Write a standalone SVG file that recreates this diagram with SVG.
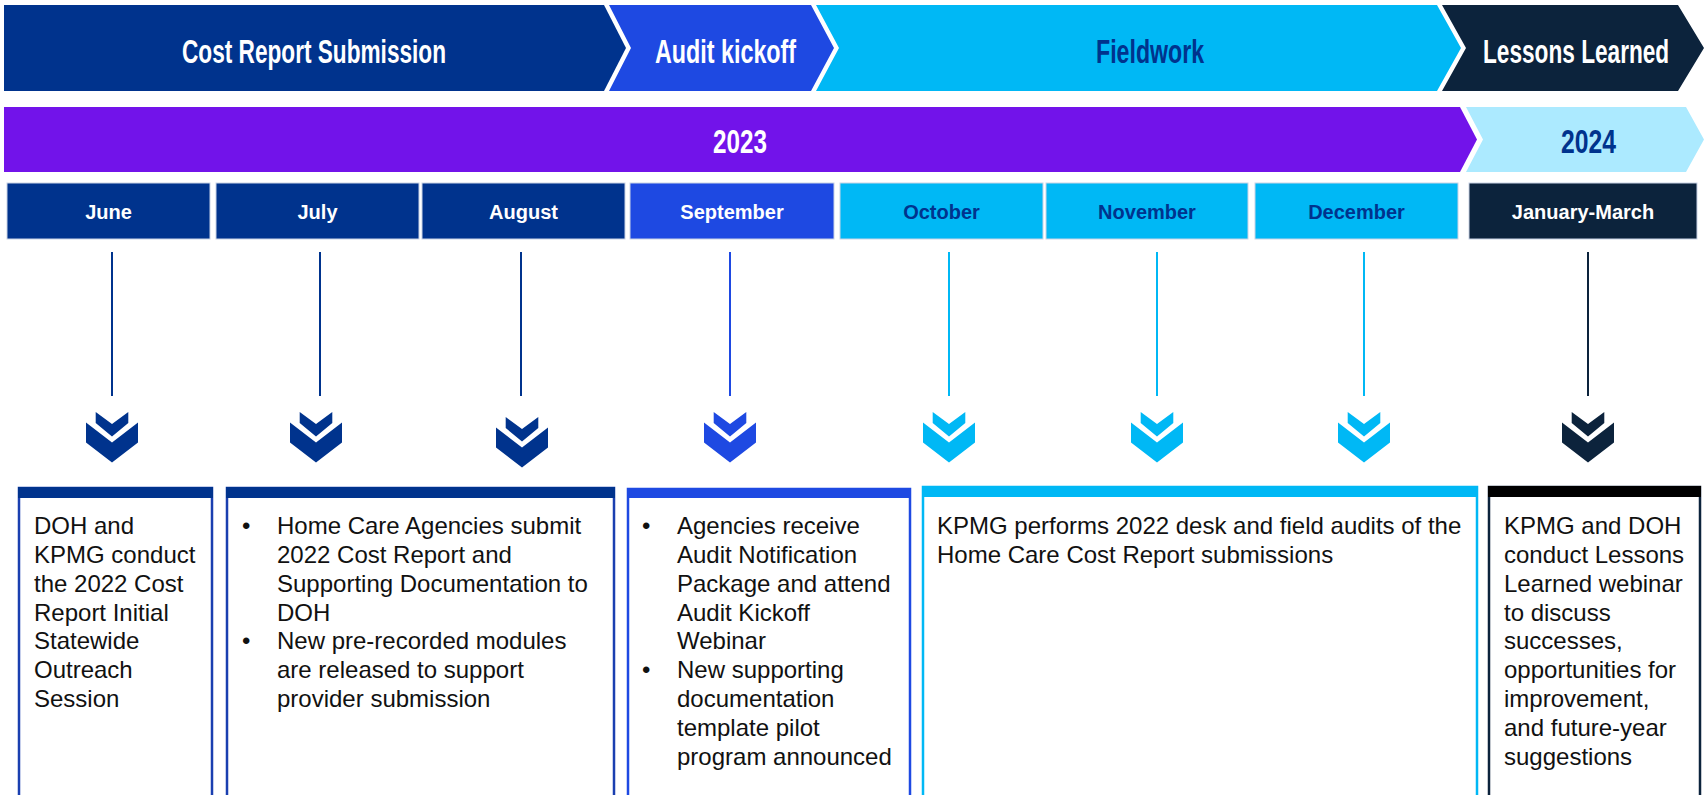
<svg xmlns="http://www.w3.org/2000/svg" xmlns:xlink="http://www.w3.org/1999/xlink" width="1705" height="795" viewBox="0 0 1705 795">
  <style>
    .hdr { font-family: "Liberation Sans", Arial, sans-serif; font-weight: bold; font-size: 34px; }
    .mon { font-family: "Liberation Sans", Arial, sans-serif; font-weight: bold; font-size: 20px; text-anchor: middle; }
    .body { font-family: "Liberation Sans", Arial, sans-serif; font-size: 24px; fill: #111111; }
    .white { fill: #ffffff; }
    .kblue { fill: #00338D; }
    .mbox { stroke: #c9d3e6; stroke-width: 1; }
    .stem { stroke-width: 2; }
    .card { fill: #ffffff; stroke-width: 2.5; }
  </style>
  <defs>
    <!-- double chevron pointing down; origin at top centre -->
    <g id="chev">
      <path d="M-16.3,0 L0,12 L16.3,0 L16.3,11 L0,24.4 L-16.3,11 Z"/>
      <path d="M-26,10.4 L0,30.4 L26,10.4 L26,30.4 L0,50.4 L-26,30.4 Z"/>
    </g>
  </defs>

  <rect width="1705" height="795" fill="#ffffff"/>

  <!-- phase band (condensed headings via horizontal scale) -->
  <g id="phase-cost-report">
    <path d="M4,5 H604 L626,48 L604,91 H4 Z" fill="#00338D"/>
    <text class="hdr white" transform="translate(182,63) scale(0.665,1)" x="0" y="0" textLength="397" lengthAdjust="spacingAndGlyphs">Cost Report Submission</text>
  </g>
  <g id="phase-audit-kickoff">
    <path d="M609,5 H811 L834,48 L811,91 H609 L631,48 Z" fill="#1E49E2"/>
    <text class="hdr white" transform="translate(655,63) scale(0.685,1)" x="0" y="0" textLength="206" lengthAdjust="spacingAndGlyphs">Audit kickoff</text>
  </g>
  <g id="phase-fieldwork">
    <path d="M816,5 H1437 L1461,48 L1437,91 H816 L839,48 Z" fill="#00B8F5"/>
    <text class="hdr kblue" transform="translate(1096,63) scale(0.68,1)" x="0" y="0" textLength="159" lengthAdjust="spacingAndGlyphs">Fieldwork</text>
  </g>
  <g id="phase-lessons">
    <path d="M1442,5 H1678 L1704,48 L1678,91 H1442 L1466,48 Z" fill="#0C233C"/>
    <text class="hdr white" transform="translate(1483,63) scale(0.665,1)" x="0" y="0" textLength="280" lengthAdjust="spacingAndGlyphs">Lessons Learned</text>
  </g>

  <!-- year band -->
  <g id="year-2023">
    <path d="M4,107 H1460 L1477,139.5 L1460,172 H4 Z" fill="#7213EA"/>
    <text class="hdr white" transform="translate(713,153) scale(0.714,1)" x="0" y="0" textLength="75.6" lengthAdjust="spacingAndGlyphs">2023</text>
  </g>
  <g id="year-2024">
    <path d="M1466,107 H1686 L1704,139.5 L1686,172 H1466 L1483,139.5 Z" fill="#ACEAFF"/>
    <text class="hdr kblue" transform="translate(1561,153) scale(0.727,1)" x="0" y="0" textLength="75.6" lengthAdjust="spacingAndGlyphs">2024</text>
  </g>

  <!-- months -->
  <g id="month-june">
    <rect class="mbox" x="7" y="183" width="203" height="56" fill="#00338D"/>
    <text class="mon white" x="108.5" y="219">June</text>
  </g>
  <g id="month-july">
    <rect class="mbox" x="216" y="183" width="203" height="56" fill="#00338D"/>
    <text class="mon white" x="317.5" y="219">July</text>
  </g>
  <g id="month-august">
    <rect class="mbox" x="422" y="183" width="203" height="56" fill="#00338D"/>
    <text class="mon white" x="523.5" y="219">August</text>
  </g>
  <g id="month-september">
    <rect class="mbox" x="630" y="183" width="204" height="56" fill="#1E49E2"/>
    <text class="mon white" x="732" y="219">September</text>
  </g>
  <g id="month-october">
    <rect class="mbox" x="840" y="183" width="203" height="56" fill="#00B8F5"/>
    <text class="mon kblue" x="941.5" y="219">October</text>
  </g>
  <g id="month-november">
    <rect class="mbox" x="1046" y="183" width="202" height="56" fill="#00B8F5"/>
    <text class="mon kblue" x="1147" y="219">November</text>
  </g>
  <g id="month-december">
    <rect class="mbox" x="1255" y="183" width="203" height="56" fill="#00B8F5"/>
    <text class="mon kblue" x="1356.5" y="219">December</text>
  </g>
  <g id="month-jan-mar">
    <rect class="mbox" x="1469" y="183" width="228" height="56" fill="#0C233C"/>
    <text class="mon white" x="1583" y="219">January-March</text>
  </g>

  <!-- connectors: stems and down chevrons -->
  <g id="connectors">
    <line class="stem" x1="112" y1="252" x2="112" y2="396" stroke="#00338D"/>
    <line class="stem" x1="320" y1="252" x2="320" y2="396" stroke="#00338D"/>
    <line class="stem" x1="521" y1="252" x2="521" y2="396" stroke="#00338D"/>
    <line class="stem" x1="730" y1="252" x2="730" y2="396" stroke="#1E49E2"/>
    <line class="stem" x1="949" y1="252" x2="949" y2="396" stroke="#00B8F5"/>
    <line class="stem" x1="1157" y1="252" x2="1157" y2="396" stroke="#00B8F5"/>
    <line class="stem" x1="1364" y1="252" x2="1364" y2="396" stroke="#00B8F5"/>
    <line class="stem" x1="1588" y1="252" x2="1588" y2="396" stroke="#0C233C"/>

    <use xlink:href="#chev" href="#chev" x="112" y="412" fill="#00338D"/>
    <use xlink:href="#chev" href="#chev" x="316" y="412" fill="#00338D"/>
    <use xlink:href="#chev" href="#chev" x="522" y="417" fill="#00338D"/>
    <use xlink:href="#chev" href="#chev" x="730" y="412" fill="#1E49E2"/>
    <use xlink:href="#chev" href="#chev" x="949" y="412" fill="#00B8F5"/>
    <use xlink:href="#chev" href="#chev" x="1157" y="412" fill="#00B8F5"/>
    <use xlink:href="#chev" href="#chev" x="1364" y="412" fill="#00B8F5"/>
    <use xlink:href="#chev" href="#chev" x="1588" y="412" fill="#0C233C"/>
  </g>

  <!-- description cards -->
  <g id="card-june">
    <rect class="card" x="19" y="488" width="193" height="320" stroke="#1a3fb0"/>
    <rect x="18" y="487" width="195" height="11" fill="#00338D"/>
    <text class="body">
      <tspan x="34" y="534">DOH and</tspan>
      <tspan x="34" y="563">KPMG conduct</tspan>
      <tspan x="34" y="592">the 2022 Cost</tspan>
      <tspan x="34" y="621">Report Initial</tspan>
      <tspan x="34" y="649">Statewide</tspan>
      <tspan x="34" y="678">Outreach</tspan>
      <tspan x="34" y="707">Session</tspan>
    </text>
  </g>
  <g id="card-july-august">
    <rect class="card" x="227" y="488" width="387" height="320" stroke="#1a3fb0"/>
    <rect x="226" y="487" width="389" height="11" fill="#00338D"/>
    <text class="body">
      <tspan x="242" y="534">•</tspan>
      <tspan x="277" y="534">Home Care Agencies submit</tspan>
      <tspan x="277" y="563">2022 Cost Report and</tspan>
      <tspan x="277" y="592">Supporting Documentation to</tspan>
      <tspan x="277" y="621">DOH</tspan>
      <tspan x="242" y="649">•</tspan>
      <tspan x="277" y="649">New pre-recorded modules</tspan>
      <tspan x="277" y="678">are released to support</tspan>
      <tspan x="277" y="707">provider submission</tspan>
    </text>
  </g>
  <g id="card-september">
    <rect class="card" x="628" y="489" width="282" height="320" stroke="#1E49E2"/>
    <rect x="627" y="488" width="284" height="10" fill="#1E49E2"/>
    <text class="body">
      <tspan x="642" y="534">•</tspan>
      <tspan x="677" y="534">Agencies receive</tspan>
      <tspan x="677" y="563">Audit Notification</tspan>
      <tspan x="677" y="592">Package and attend</tspan>
      <tspan x="677" y="621">Audit Kickoff</tspan>
      <tspan x="677" y="649">Webinar</tspan>
      <tspan x="642" y="678">•</tspan>
      <tspan x="677" y="678">New supporting</tspan>
      <tspan x="677" y="707">documentation</tspan>
      <tspan x="677" y="736">template pilot</tspan>
      <tspan x="677" y="765">program announced</tspan>
    </text>
  </g>
  <g id="card-fieldwork">
    <rect class="card" x="923" y="487" width="554" height="320" stroke="#00B8F5"/>
    <rect x="922" y="486" width="556" height="11" fill="#00B8F5"/>
    <text class="body">
      <tspan x="937" y="534">KPMG performs 2022 desk and field audits of the</tspan>
      <tspan x="937" y="563">Home Care Cost Report submissions</tspan>
    </text>
  </g>
  <g id="card-lessons">
    <rect class="card" x="1489" y="487" width="211" height="320" stroke="#0C233C"/>
    <rect x="1488" y="486" width="213" height="11" fill="#000000"/>
    <text class="body">
      <tspan x="1504" y="534">KPMG and DOH</tspan>
      <tspan x="1504" y="563">conduct Lessons</tspan>
      <tspan x="1504" y="592">Learned webinar</tspan>
      <tspan x="1504" y="621">to discuss</tspan>
      <tspan x="1504" y="649">successes,</tspan>
      <tspan x="1504" y="678">opportunities for</tspan>
      <tspan x="1504" y="707">improvement,</tspan>
      <tspan x="1504" y="736">and future-year</tspan>
      <tspan x="1504" y="765">suggestions</tspan>
    </text>
  </g>
</svg>
